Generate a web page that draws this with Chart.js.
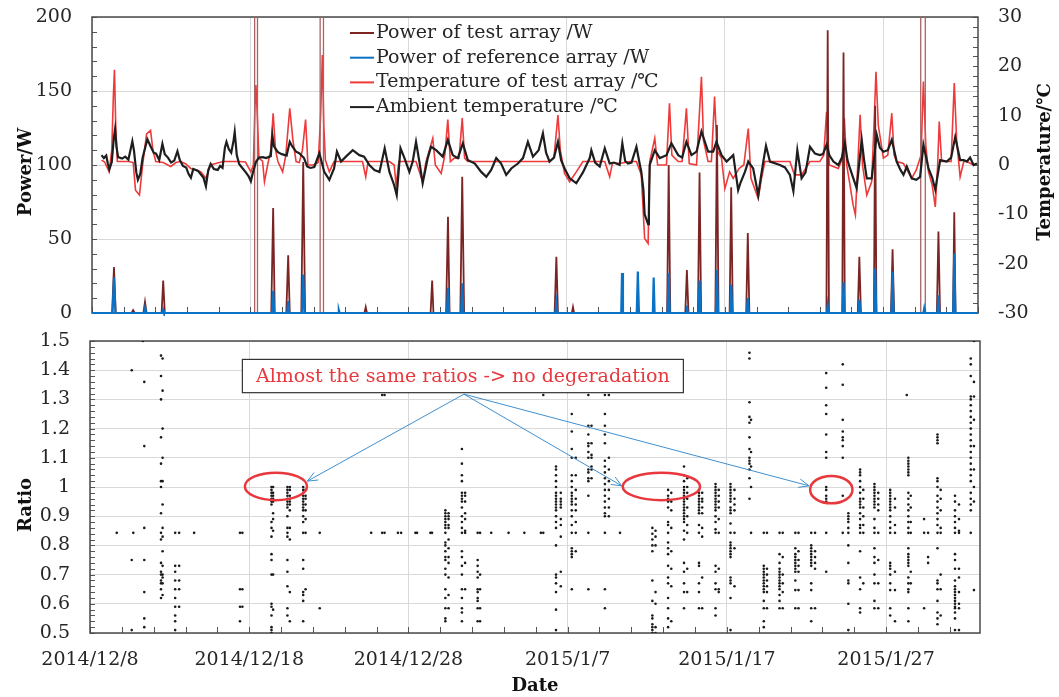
<!DOCTYPE html>
<html>
<head>
<meta charset="utf-8">
<title>Power, temperature and ratio</title>
<script src="https://cdn.jsdelivr.net/npm/chart.js@4.4.1/dist/chart.umd.min.js"></script>
<style>
  body { margin: 0; background: #fff; }
  #wrap { position: relative; width: 1059px; height: 697px; }
  canvas { position: absolute; left: 0; }
  #top { top: 0; }
  #bottom { top: 330px; }
</style>
</head>
<body>
<div id="wrap">
  <canvas id="top" width="1059" height="330"></canvas>
  <canvas id="bottom" width="1059" height="367"></canvas>
</div>
<script>
"use strict";

const SERIF = '"DejaVu Serif", "Liberation Serif", serif';
const TEXT = "#262626";
const GRID = "#d9d9d9";

// x values are days counted from 2014/12/8 00:00
const startDate = [2014, 11, 8];

const legendLabels = [
  "Power of test array /W",
  "Power of reference array /W",
  "Temperature of test array /℃",
  "Ambient temperature /℃",
];
const seriesColors = ["#7a2424", "#0a72c4", "#ee3a3a", "#1e1e1e"];

// [day, W]
const powerTest = [
  [0, 0], [1.27, 0], [1.39, 31], [1.5, 0],
  [2.5, 0], [2.6, 2], [2.7, 0],
  [3.25, 0], [3.35, 7.5], [3.45, 0],
  [4.4, 0], [4.5, 22], [4.6, 0],
  [10.28, 0], [10.28, 400], [10.46, 400], [10.46, 0],
  [11.33, 0], [11.45, 71], [11.55, 0],
  [12.28, 0], [12.4, 39], [12.5, 0],
  [13.23, 0], [13.35, 102], [13.47, 0],
  [14.42, 0], [14.42, 400], [14.63, 400], [14.63, 0],
  [17.22, 0], [17.3, 4], [17.38, 0],
  [21.4, 0], [21.5, 22], [21.58, 0],
  [22.38, 0], [22.5, 65], [22.6, 0],
  [23.28, 0], [23.4, 92], [23.52, 0],
  [29.24, 0], [29.35, 38], [29.45, 0],
  [30.33, 0], [30.4, 4], [30.47, 0],
  [34.42, 0], [34.5, 5], [34.58, 0],
  [36.35, 0], [36.45, 100], [36.55, 0],
  [37.5, 0], [37.6, 29], [37.7, 0],
  [38.3, 0], [38.4, 95], [38.5, 0],
  [39.4, 0], [39.5, 127], [39.6, 0],
  [40.3, 0], [40.4, 85], [40.5, 0],
  [41.35, 0], [41.45, 54], [41.55, 0],
  [46.42, 0], [46.5, 191], [46.58, 0],
  [47.42, 0], [47.5, 176], [47.58, 0],
  [48.4, 0], [48.5, 38], [48.6, 0],
  [49.42, 0], [49.5, 140], [49.58, 0],
  [50.5, 0], [50.6, 43], [50.7, 0],
  [52.38, 0], [52.38, 400], [52.67, 400], [52.67, 0],
  [53.4, 0], [53.5, 55], [53.6, 0],
  [54.42, 0], [54.5, 68], [54.58, 0],
  [56, 0],
];

const powerRef = [
  [0, 0], [1.3, 0], [1.39, 24], [1.48, 0],
  [3.3, 0], [3.35, 3], [3.4, 0],
  [4.45, 0], [4.5, 2], [4.55, 0],
  [11.38, 0], [11.45, 15], [11.52, 0],
  [12.33, 0], [12.4, 8], [12.47, 0],
  [13.27, 0], [13.35, 26], [13.43, 0],
  [15.55, 0], [15.6, 2], [15.65, 0],
  [22.43, 0], [22.5, 17], [22.57, 0],
  [23.33, 0], [23.4, 20], [23.47, 0],
  [29.28, 0], [29.35, 7], [29.42, 0],
  [33.45, 0], [33.5, 27], [33.56, 0],
  [34.43, 0], [34.5, 28], [34.57, 0],
  [35.45, 0], [35.5, 24], [35.56, 0],
  [36.38, 0], [36.45, 27], [36.52, 0],
  [37.55, 0], [37.6, 5], [37.65, 0],
  [38.33, 0], [38.4, 22], [38.47, 0],
  [39.43, 0], [39.5, 29], [39.57, 0],
  [40.33, 0], [40.4, 19], [40.47, 0],
  [41.38, 0], [41.45, 10], [41.52, 0],
  [46.45, 0], [46.5, 5], [46.55, 0],
  [47.43, 0], [47.5, 21], [47.57, 0],
  [48.43, 0], [48.5, 9], [48.57, 0],
  [49.43, 0], [49.5, 30], [49.57, 0],
  [50.53, 0], [50.6, 28], [50.67, 0],
  [52.55, 0], [52.6, 3], [52.65, 0],
  [53.43, 0], [53.5, 12], [53.57, 0],
  [54.43, 0], [54.5, 40], [54.57, 0],
  [56, 0],
];

// [day, °C]
const tempTest = [
  [0.6, 1.0], [0.8, 0.6], [1.08, -1.4], [1.25, 3.0], [1.35, 14.0], [1.42, 19.3], [1.5, 8.0], [1.6, 0.7],
  [2.0, 0.7], [2.34, 0.7], [2.6, 0.5], [2.75, -5.1], [3.0, -6.1], [3.2, 0], [3.45, 6.3], [3.7, 7.0],
  [3.85, 3.0], [4.03, 0.7], [4.5, 0.5], [4.98, -0.3], [5.3, 0.5], [5.6, 0.7], [5.93, 0.2], [6.24, -0.7],
  [6.6, -1.0], [6.88, -1.4], [7.2, -2.7], [7.5, 0], [7.93, 0.4], [8.3, 0.7], [8.7, 0.7], [9.0, 0.7],
  [9.3, 0.7], [9.7, 0.6], [10.04, -1.4], [10.2, 0], [10.3, 12.0], [10.36, 16.2], [10.45, 10.0], [10.55, 1.4],
  [10.78, 0.8], [10.9, -3.4], [11.1, 0], [11.3, 3.0], [11.45, 10.5], [11.6, 3.0], [11.75, 0.7], [12.05, -1.4],
  [12.25, 2.0], [12.5, 11.5], [12.7, 5.0], [12.9, 0.7], [13.1, 0.5], [13.3, 3.0], [13.5, 9.2], [13.65, 0],
  [14.0, 0], [14.3, 0.5], [14.45, 10.0], [14.56, 22.3], [14.65, 8.0], [14.75, 1.0], [15.0, -1.4], [15.3, 0.7],
  [16.0, 0.7], [16.8, 0.7], [17.1, 0.7], [17.3, -2.4], [17.45, 0.7], [18.0, 0.7], [18.8, 0.7], [19.1, 0],
  [19.22, -4.1], [19.4, 0.7], [20.0, 0.7], [20.48, 0.7], [20.9, -3.4], [21.1, 0.5], [21.54, 5.4], [21.7, 0],
  [22.07, -1.7], [22.3, 2.0], [22.49, 9.2], [22.65, 0.7], [22.9, 1.4], [23.2, 1.4], [23.4, 9.5], [23.55, 1.4],
  [23.75, 0.7], [24.5, 0.7], [25.5, 0.7], [26.5, 0.7], [27.5, 0.7], [28.29, 0.7], [28.92, 0.7], [29.2, 1.5],
  [29.45, 10.1], [29.6, 3.0], [29.87, -1.7], [30.19, -3.4], [30.61, -1.4], [31.03, 0.7], [31.5, 0.7], [32.41, 0.7],
  [32.72, -2.4], [32.9, 0.5], [33.35, 0.3], [34.0, 0.7], [34.41, 0.7], [34.72, -2.0], [34.93, -14.9], [35.15, -15.9],
  [35.25, 0.7], [35.57, 5.4], [35.75, 0], [36.31, 0], [36.5, 12.5], [36.65, 2.0], [37.05, 0.7], [37.3, 0.7],
  [37.57, 11.5], [37.75, 0.3], [38.21, 0], [38.52, 17.9], [38.65, 5.0], [38.94, 0.7], [39.15, 0.7], [39.35, 13.9],
  [39.5, 3.0], [39.79, 1.4], [40.0, -4.8], [40.3, -1.4], [40.53, -2.7], [40.9, -0.7], [41.2, 0], [41.48, 7.4],
  [41.65, -2.7], [42.11, -6.8], [42.3, -3.0], [42.53, 0.7], [43.0, 0.7], [43.5, 0.7], [44.11, 0.7], [44.4, -2.0],
  [44.85, -2.0], [45.38, 0.7], [46.0, 0.7], [46.25, 2.0], [46.43, 10.8], [46.6, 0], [47.17, -0.7], [47.4, 1.0],
  [47.55, 9.5], [47.7, 0], [47.91, -4.1], [48.1, -8.0], [48.25, -10.1], [48.4, 0], [48.55, 10.2], [48.7, 0],
  [48.97, -6.1], [49.28, -3.4], [49.45, 10.0], [49.55, 18.9], [49.7, 8.0], [50.02, 1.4], [50.3, 2.0], [50.55, 10.5],
  [50.7, 2.0], [50.86, 0.7], [51.29, 0.3], [51.81, -2.7], [52.1, -1.0], [52.4, 2.0], [52.55, 16.9], [52.7, 4.0],
  [52.87, -1.4], [53.1, -4.0], [53.3, -8.5], [53.45, 0], [53.55, 8.8], [53.7, 0.7], [54.03, 0.7], [54.3, 0.7],
  [54.5, 16.6], [54.65, 5.0], [54.87, -2.4], [55.1, 0.7], [55.3, 0.7], [55.72, 0], [55.93, 0.3],
];

const tempAmbient = [
  [0.6, 2.0], [0.75, 1.4], [0.9, 1.9], [1.0, 0.3], [1.1, -0.9], [1.25, 0.6], [1.38, 5.5], [1.46, 7.3],
  [1.55, 3.6], [1.65, 1.6], [1.9, 1.3], [2.1, 1.7], [2.3, 1.1], [2.45, 3.3], [2.55, 4.8], [2.65, 3.0],
  [2.8, -1.5], [2.9, -3.0], [3.05, -1.8], [3.2, 1.5], [3.4, 4.0], [3.5, 5.2], [3.7, 3.8], [3.9, 2.5],
  [4.05, 2.3], [4.25, 1.0], [4.45, 4.3], [4.6, 2.2], [4.8, 1.5], [5.0, 0.5], [5.2, 0.9], [5.4, 2.8],
  [5.55, 1.0], [5.75, -0.2], [5.95, -0.5], [6.1, -1.8], [6.25, -2.6], [6.4, -0.8], [6.56, -1.0], [6.7, -1.2],
  [6.9, -2.0], [7.05, -2.6], [7.2, -4.3], [7.35, -1.0], [7.5, 0.2], [7.7, -0.8], [7.95, -1.0], [8.1, -0.2],
  [8.25, -0.6], [8.4, 3.5], [8.5, 4.7], [8.65, 3.2], [8.8, 2.5], [8.95, 5.0], [9.02, 6.7], [9.15, 2.0],
  [9.3, 0.2], [9.5, -0.6], [9.7, -1.4], [9.9, -2.3], [10.04, -3.3], [10.15, -1.8], [10.36, 0.6], [10.55, 1.5],
  [10.8, 1.6], [11.0, 1.4], [11.3, 1.8], [11.4, 6.0], [11.5, 3.8], [11.75, 2.6], [12.0, 2.2], [12.3, 1.9],
  [12.5, 4.7], [12.65, 3.8], [12.9, 2.7], [13.1, 2.4], [13.4, 1.4], [13.6, -0.3], [13.8, -0.6], [14.05, -0.4],
  [14.37, 2.4], [14.68, -1.4], [15.0, -3.0], [15.3, -0.7], [15.48, 2.7], [15.74, 0.7], [16.05, 1.7], [16.48, 3.0],
  [16.9, 2.0], [17.2, 1.7], [17.53, 0], [17.85, -1.0], [18.17, -1.4], [18.5, 3.4], [18.8, -1.4], [19.1, -4.1],
  [19.26, -6.1], [19.5, 3.4], [19.75, 1.4], [20.06, -1.4], [20.27, 0.7], [20.48, 4.7], [20.69, 0.7], [20.9, -3.7],
  [21.22, 1.4], [21.43, 3.7], [21.75, 3.0], [22.17, 1.7], [22.49, 5.1], [22.8, 2.0], [23.12, 1.4], [23.44, 4.4],
  [23.75, 1.0], [24.2, 0.3], [24.6, -1.4], [24.92, -2.4], [25.23, -1.0], [25.55, 1.4], [25.86, 0.3], [26.18, -2.0],
  [26.5, -0.7], [26.92, 0.3], [27.24, 1.4], [27.55, 4.7], [27.87, 1.7], [28.23, 3.0], [28.5, 6.4], [28.7, 2.5],
  [28.92, 0.7], [29.2, 1.5], [29.45, 4.7], [29.65, 1.0], [29.87, -0.7], [30.19, -2.7], [30.61, -3.7], [31.03, -1.5],
  [31.46, 1.4], [31.56, 3.0], [31.8, 0.5], [32.09, -0.3], [32.41, 3.4], [32.72, 0.3], [33.0, 0.5], [33.35, 0],
  [33.52, 4.4], [33.7, 0.8], [33.88, 0.3], [34.1, 0.5], [34.41, 3.7], [34.6, 0.5], [34.72, -1.4], [34.85, -5.0],
  [34.93, -10.0], [35.15, -12.0], [35.2, -9.0], [35.25, 0], [35.57, 3.0], [35.89, 1.4], [36.31, 2.0], [36.62, 4.4],
  [37.05, 2.0], [37.3, 1.5], [37.57, 4.7], [37.89, 2.0], [38.21, 2.7], [38.52, 6.8], [38.94, 2.7], [39.26, 2.7],
  [39.47, 4.7], [39.79, 2.0], [40.11, 0.7], [40.53, 2.0], [40.84, -5.1], [41.0, -3.5], [41.27, -1.4], [41.48, 0.7],
  [41.79, -0.7], [42.11, -6.1], [42.25, -3.0], [42.43, 0.7], [42.6, 3.9], [42.85, 0.7], [43.48, 0], [43.8, -0.5],
  [44.11, -2.0], [44.33, -5.3], [44.58, 3.0], [44.85, -2.7], [45.1, -1.5], [45.38, 3.7], [45.7, 2.3], [46.0, 2.0],
  [46.2, 2.2], [46.43, 4.1], [46.6, 2.0], [46.86, 0.7], [47.17, 0], [47.4, 1.5], [47.59, 4.4], [47.75, 1.0],
  [47.91, -0.7], [48.1, -2.5], [48.33, -4.7], [48.65, 5.1], [48.8, 1.0], [48.97, -2.7], [49.28, -2.7], [49.6, 6.1],
  [49.8, 3.5], [50.02, 2.7], [50.3, 3.0], [50.55, 5.1], [50.86, 0.7], [51.1, -1.0], [51.29, -2.0], [51.5, -0.3],
  [51.81, -2.7], [52.1, -3.0], [52.34, -2.4], [52.55, 4.1], [52.87, -0.7], [53.1, -2.5], [53.3, -5.0], [53.61, 1.0],
  [54.03, 0.7], [54.3, 1.5], [54.56, 5.7], [54.87, 1.0], [55.1, 1.0], [55.3, 0.7], [55.5, 1.5], [55.72, 0],
  [55.93, 0.3],
];

// ratio of test to reference power: [day, [ratios at that time]]
const ratioColumns = [
  [1.68, [0.843]],
  [2.62, [1.40, 0.75, 0.51]],
  [2.72, [0.843]],
  [3.32, [1.50]],
  [3.41, [1.36, 1.14, 0.86, 0.75, 0.64, 0.55, 0.52]],
  [4.46, [1.45, 1.38, 1.30, 1.17, 1.08, 1.02, 1.00, 0.91, 0.843, 0.82, 0.74, 0.71, 0.70, 0.68, 0.67, 0.65, 0.62]],
  [4.56, [1.44, 1.33, 1.20, 1.10, 1.02, 0.94, 0.86, 0.83, 0.78, 0.73, 0.70, 0.69, 0.67, 0.63]],
  [5.35, [0.843, 0.73, 0.71, 0.68, 0.65, 0.62, 0.59, 0.56, 0.54, 0.51]],
  [5.6, [0.843, 0.73, 0.68, 0.65, 0.59]],
  [6.54, [0.843]],
  [9.42, [0.843, 0.65, 0.59, 0.54]],
  [9.57, [0.843, 0.65, 0.59]],
  [11.4, [1.0, 0.99, 0.98, 0.97, 0.96, 0.95, 0.94, 0.88, 0.86, 0.83, 0.77, 0.75, 0.70, 0.60, 0.59, 0.56, 0.52, 0.51, 0.50]],
  [11.5, [1.0, 0.98, 0.97, 0.96, 0.95, 0.91, 0.89, 0.85, 0.70, 0.58]],
  [12.4, [1.0, 0.99, 0.98, 0.97, 0.96, 0.95, 0.94, 0.93, 0.90, 0.86, 0.843, 0.83, 0.75, 0.71, 0.66, 0.585, 0.56]],
  [12.55, [1.0, 0.99, 0.97, 0.96, 0.95, 0.94, 0.92, 0.86, 0.82, 0.64, 0.54]],
  [13.39, [1.0, 0.99, 0.98, 0.97, 0.96, 0.95, 0.94, 0.93, 0.92, 0.90, 0.88, 0.843, 0.75, 0.72, 0.64, 0.63, 0.61, 0.54]],
  [13.54, [0.99, 0.97, 0.96, 0.94, 0.92, 0.89, 0.843, 0.65]],
  [14.43, [0.843, 0.585]],
  [17.66, [0.843]], [18.35, [0.843, 1.315]], [18.5, [0.843, 1.315]], [19.34, [0.843]], [19.54, [0.843]],
  [20.44, [0.843]], [20.54, [0.843]], [21.38, [0.843]], [21.48, [0.843]],
  [22.32, [0.92, 0.91, 0.90, 0.89, 0.88, 0.87, 0.86, 0.843, 0.81, 0.80, 0.78, 0.76, 0.75, 0.72, 0.70, 0.65, 0.62, 0.585, 0.55, 0.54]],
  [22.52, [0.91, 0.90, 0.89, 0.87, 0.86, 0.82, 0.79, 0.76, 0.74, 0.69, 0.63, 0.585]],
  [23.36, [1.13, 1.08, 1.04, 1.02, 0.98, 0.97, 0.96, 0.95, 0.93, 0.90, 0.88, 0.86, 0.843, 0.78, 0.76, 0.73, 0.70, 0.65, 0.62, 0.585, 0.57, 0.54]],
  [23.56, [0.98, 0.97, 0.95, 0.91, 0.89, 0.85, 0.843, 0.74, 0.65]],
  [24.35, [0.843, 0.75, 0.73, 0.71, 0.69, 0.65, 0.64, 0.62, 0.61, 0.585, 0.54]],
  [24.5, [0.843, 0.70, 0.65, 0.585, 0.54]],
  [25.2, [0.843]], [26.29, [0.843]], [27.28, [0.843]], [28.32, [0.843]], [28.47, [0.843, 1.315]],
  [29.27, [1.07, 1.06, 1.04, 1.02, 1.0, 0.98, 0.97, 0.96, 0.95, 0.94, 0.93, 0.92, 0.90, 0.88, 0.86, 0.80, 0.70, 0.69, 0.67, 0.64, 0.58, 0.51]],
  [29.57, [0.98, 0.96, 0.95, 0.94, 0.93, 0.89, 0.87, 0.83, 0.71, 0.66]],
  [30.26, [1.25, 1.19, 1.13, 1.10, 1.04, 1.02, 1.0, 0.98, 0.97, 0.96, 0.95, 0.94, 0.92, 0.90, 0.87, 0.843, 0.79, 0.78, 0.77, 0.76, 0.65]],
  [30.51, [1.10, 1.04, 0.99, 0.96, 0.94, 0.92, 0.88, 0.843, 0.78]],
  [31.3, [1.315, 1.21, 1.18, 1.15, 1.14, 1.12, 1.10, 1.06, 1.05, 1.03, 1.02, 0.97, 0.843, 0.65]],
  [31.5, [1.21, 1.15, 1.11, 1.10, 1.07, 1.06, 1.03]],
  [32.34, [1.315, 1.25, 1.21, 1.18, 1.15, 1.09, 1.07, 1.05, 1.03, 1.01, 0.99, 0.97, 0.95, 0.93, 0.91, 0.90, 0.843, 0.65, 0.585]],
  [32.59, [1.315, 1.10, 1.06, 1.02, 0.99, 0.96, 0.93, 0.90]],
  [33.29, [0.843]],
  [35.32, [0.86, 0.84, 0.82, 0.80, 0.78, 0.68, 0.61, 0.56, 0.55, 0.53, 0.52, 0.51, 0.50]],
  [35.52, [0.85, 0.83, 0.80, 0.64, 0.60, 0.52, 0.50]],
  [36.31, [0.99, 0.97, 0.96, 0.95, 0.93, 0.88, 0.87, 0.843, 0.81, 0.79, 0.77, 0.73, 0.69, 0.67, 0.62, 0.585, 0.55, 0.52]],
  [36.51, [0.98, 0.95, 0.92, 0.86, 0.78, 0.72, 0.66, 0.54]],
  [37.31, [1.07, 1.04, 1.02, 1.0, 0.99, 0.98, 0.97, 0.96, 0.95, 0.94, 0.93, 0.92, 0.91, 0.90, 0.89, 0.88, 0.85, 0.82, 0.74, 0.71, 0.67, 0.64, 0.585]],
  [37.51, [1.03, 1.0, 0.98, 0.96, 0.93, 0.90, 0.87, 0.843, 0.72, 0.64]],
  [38.25, [0.99, 0.98, 0.97, 0.96, 0.95, 0.94, 0.93, 0.92, 0.91, 0.87, 0.843, 0.74, 0.73, 0.67, 0.64, 0.585]],
  [38.45, [0.98, 0.96, 0.95, 0.93, 0.91, 0.86, 0.83, 0.69, 0.585]],
  [39.29, [1.01, 1.0, 0.99, 0.98, 0.97, 0.96, 0.95, 0.94, 0.93, 0.92, 0.90, 0.88, 0.855, 0.843, 0.73, 0.71, 0.67, 0.65, 0.585, 0.56]],
  [39.49, [0.99, 0.97, 0.95, 0.93, 0.89, 0.843, 0.72, 0.65, 0.64]],
  [40.23, [1.01, 1.0, 0.99, 0.98, 0.97, 0.96, 0.95, 0.93, 0.92, 0.91, 0.875, 0.843, 0.81, 0.80, 0.79, 0.78, 0.77, 0.76, 0.69, 0.68, 0.67, 0.62, 0.51]],
  [40.48, [0.99, 0.96, 0.94, 0.92, 0.843, 0.79, 0.66]],
  [41.42, [1.46, 1.44, 1.29, 1.24, 1.22, 1.17, 1.13, 1.10, 1.09, 1.08, 1.06, 1.03, 0.96]],
  [41.52, [1.23, 1.12, 1.07, 1.0, 0.843]],
  [42.32, [0.843, 0.73, 0.72, 0.71, 0.70, 0.69, 0.68, 0.67, 0.66, 0.65, 0.64, 0.61, 0.585, 0.54, 0.52]],
  [42.52, [0.843, 0.72, 0.70, 0.68, 0.66, 0.64, 0.585]],
  [43.31, [0.843, 0.77, 0.74, 0.72, 0.71, 0.70, 0.69, 0.68, 0.67, 0.66, 0.65, 0.63, 0.61, 0.585]],
  [43.51, [0.843, 0.76, 0.70, 0.67, 0.64, 0.585]],
  [44.3, [0.843, 0.79, 0.77, 0.76, 0.75, 0.74, 0.73, 0.72, 0.71, 0.68, 0.647, 0.585]],
  [44.5, [0.843, 0.78, 0.75, 0.73, 0.71, 0.647, 0.585]],
  [45.3, [0.843, 0.80, 0.79, 0.78, 0.77, 0.76, 0.75, 0.74, 0.73, 0.67, 0.647, 0.585, 0.54]],
  [45.54, [0.843, 0.78, 0.76, 0.74, 0.72, 0.585]],
  [46.24, [1.39, 1.34, 1.28, 1.25, 1.18, 1.12, 1.10, 1.0, 0.99, 0.97, 0.96, 0.95, 0.843, 0.71]],
  [47.28, [1.42, 1.35, 1.23, 1.19, 1.17, 1.16, 1.14, 1.10, 0.97, 0.843]],
  [47.63, [0.91, 0.90, 0.89, 0.88, 0.86, 0.843, 0.80, 0.74, 0.68, 0.67, 0.60, 0.51]],
  [48.37, [1.06, 1.05, 1.04, 1.02, 1.0, 0.98, 0.96, 0.95, 0.94, 0.93, 0.91, 0.89, 0.87, 0.86, 0.843, 0.78, 0.69, 0.65, 0.585, 0.57]],
  [48.57, [0.99, 0.96, 0.93, 0.90, 0.87, 0.843, 0.67]],
  [49.27, [1.01, 1.0, 0.99, 0.98, 0.97, 0.96, 0.95, 0.94, 0.93, 0.89, 0.86, 0.843, 0.79, 0.76, 0.74, 0.70, 0.67, 0.61, 0.585]],
  [49.51, [0.98, 0.96, 0.94, 0.92, 0.843, 0.75, 0.67, 0.585]],
  [50.26, [0.99, 0.98, 0.97, 0.96, 0.95, 0.94, 0.93, 0.92, 0.90, 0.88, 0.86, 0.843, 0.74, 0.73, 0.72, 0.70, 0.67, 0.647, 0.585, 0.56]],
  [50.56, [0.96, 0.93, 0.87, 0.843, 0.71, 0.647, 0.54]],
  [51.3, [1.315]],
  [51.4, [1.10, 1.09, 1.08, 1.07, 1.06, 1.05, 1.04, 0.98, 0.96, 0.94, 0.92, 0.90, 0.88, 0.86, 0.843, 0.79, 0.77, 0.76, 0.75, 0.74, 0.73, 0.69, 0.67, 0.65, 0.64, 0.585, 0.54]],
  [51.55, [0.97, 0.93, 0.88, 0.843, 0.71, 0.67]],
  [52.39, [0.89, 0.843, 0.585]],
  [52.64, [0.843, 0.76, 0.74]],
  [53.23, [1.18, 1.17, 1.16, 1.15, 1.03, 1.02, 1.0, 0.97, 0.95, 0.93, 0.91, 0.89, 0.87, 0.843, 0.79, 0.68, 0.67, 0.65, 0.61, 0.57, 0.55, 0.53]],
  [53.43, [0.99, 0.96, 0.92, 0.86, 0.843, 0.70, 0.65, 0.56]],
  [54.33, [0.97, 0.95, 0.92, 0.90, 0.88, 0.86, 0.843, 0.77, 0.75, 0.72, 0.68, 0.66, 0.65, 0.64, 0.63, 0.62, 0.61, 0.60, 0.59, 0.585, 0.57, 0.55, 0.51]],
  [54.58, [0.94, 0.89, 0.85, 0.843, 0.72, 0.69, 0.64, 0.60, 0.585, 0.51]],
  [55.32, [1.44, 1.42, 1.38, 1.31, 1.30, 1.28, 1.26, 1.24, 1.22, 1.20, 1.18, 1.16, 1.14, 1.12, 1.10, 1.08, 1.06, 1.04, 1.02, 0.98, 0.96, 0.94, 0.92, 0.843]],
  [55.52, [1.50, 1.36, 1.31, 1.23, 1.14, 1.06, 1.0, 0.95, 0.647]],
];

// callout on the ratio panel, in data units (day, ratio)
const noteText = "Almost the same ratios -> no degeradation";
const noteBox = [9.57, 37.27, 1.437, 1.323];
const noteFrom = [23.49, 1.318];
const noteTargets = [[13.65, 1.02], [33.4, 1.004], [45.16, 1.004]];
const noteRings = [[11.68, 1.002, 1.95, 0.047], [35.89, 1.002, 2.43, 0.047], [46.56, 0.991, 1.33, 0.047]];

Chart.defaults.font.family = SERIF;
Chart.defaults.font.size = 19;
Chart.defaults.color = TEXT;

function toXY(pairs) {
  return pairs.map((p) => ({ x: p[0], y: p[1] }));
}

function dateLabel(v) {
  const d = new Date(startDate[0], startDate[1], startDate[2] + v);
  return d.getFullYear() + "/" + (d.getMonth() + 1) + "/" + d.getDate();
}

// force an axis box size and drop the label overhang padding
function fixBox(size) {
  return function (scale) {
    if (scale.isHorizontal()) scale.height = size;
    else scale.width = size;
    scale.paddingTop = scale.paddingBottom = scale.paddingLeft = scale.paddingRight = 0;
  };
}

function tickRun(ctx, scale, from, to, step, side, len, a) {
  const n = Math.floor((to - from) / step + 1e-6);
  ctx.beginPath();
  for (let i = 0; i <= n; i++) {
    const p = Math.round(scale.getPixelForValue(from + i * step)) + 0.5;
    if (side === "left") { ctx.moveTo(a.left, p); ctx.lineTo(a.left + len, p); }
    else if (side === "right") { ctx.moveTo(a.right, p); ctx.lineTo(a.right - len, p); }
    else { ctx.moveTo(p, a.bottom); ctx.lineTo(p, a.bottom - len); }
  }
  ctx.stroke();
}

function vText(ctx, text, x, y) {
  ctx.save();
  ctx.translate(x, y);
  ctx.rotate(-Math.PI / 2);
  ctx.textAlign = "center";
  ctx.textBaseline = "middle";
  ctx.fillText(text, 0, 0);
  ctx.restore();
}

function arrow(ctx, x0, y0, x1, y1) {
  const ang = Math.atan2(y1 - y0, x1 - x0);
  const h = 11, w = 0.4;
  ctx.beginPath();
  ctx.moveTo(x0, y0);
  ctx.lineTo(x1, y1);
  ctx.moveTo(x1 - h * Math.cos(ang - w), y1 - h * Math.sin(ang - w));
  ctx.lineTo(x1, y1);
  ctx.lineTo(x1 - h * Math.cos(ang + w), y1 - h * Math.sin(ang + w));
  ctx.stroke();
}

// segments that leave the 0-200 W range are drawn lighter, like the reference
const offScale = (c) => c.p0.parsed.y > 200 || c.p1.parsed.y > 200;

const topDecor = {
  id: "topDecor",
  beforeDatasetsDraw(chart) {
    const { ctx, chartArea: a, scales } = chart;
    ctx.save();
    ctx.strokeStyle = "#555";
    ctx.lineWidth = 1;
    tickRun(ctx, scales.y, 0, 200, 10, "left", 5, a);
    tickRun(ctx, scales.yT, -30, 30, 2, "right", 5, a);
    tickRun(ctx, scales.x, 0, 56, 2, "bottom", 6, a);
    ctx.lineWidth = 1.5;
    ctx.strokeStyle = "#4a4a4a";
    ctx.strokeRect(a.left, a.top, a.width, a.height);
    ctx.restore();
  },
  afterDraw(chart) {
    const { ctx } = chart;
    ctx.save();
    ctx.font = "19px " + SERIF;
    ctx.textBaseline = "middle";
    ctx.textAlign = "left";
    legendLabels.forEach((label, i) => {
      const y = 33 + i * 24.7;
      ctx.strokeStyle = seriesColors[i];
      ctx.lineWidth = 2;
      ctx.beginPath();
      ctx.moveTo(350, y);
      ctx.lineTo(374, y);
      ctx.stroke();
      ctx.fillStyle = TEXT;
      ctx.fillText(label, 376, y);
    });
    ctx.font = "bold 18px " + SERIF;
    ctx.fillStyle = "#111";
    vText(ctx, "Power/W", 26, 172);
    vText(ctx, "Temperature/℃", 1045, 162);
    ctx.restore();
  },
};

const bottomDecor = {
  id: "bottomDecor",
  beforeDatasetsDraw(chart) {
    const { ctx, chartArea: a, scales } = chart;
    ctx.save();
    ctx.strokeStyle = "#555";
    ctx.lineWidth = 1;
    tickRun(ctx, scales.y, 0.5, 1.5, 0.02, "left", 5, a);
    tickRun(ctx, scales.x, 0, 55.9, 2, "bottom", 6, a);
    ctx.lineWidth = 1.5;
    ctx.strokeStyle = "#4a4a4a";
    ctx.strokeRect(a.left, a.top, a.width, a.height);
    ctx.restore();
  },
  afterDatasetsDraw(chart) {
    const { ctx, scales } = chart;
    const X = (v) => scales.x.getPixelForValue(v);
    const Y = (v) => scales.y.getPixelForValue(v);
    ctx.save();
    ctx.strokeStyle = "#3f8fcf";
    ctx.lineWidth = 1;
    noteTargets.forEach((t) => arrow(ctx, X(noteFrom[0]), Y(noteFrom[1]), X(t[0]), Y(t[1])));
    ctx.strokeStyle = "#e8383d";
    ctx.lineWidth = 2.5;
    noteRings.forEach((r) => {
      ctx.beginPath();
      ctx.ellipse(X(r[0]), Y(r[1]), Math.abs(X(r[0] + r[2]) - X(r[0])), Math.abs(Y(r[1] + r[3]) - Y(r[1])), 0, 0, Math.PI * 2);
      ctx.stroke();
    });
    const bx = X(noteBox[0]), by = Y(noteBox[2]);
    const bw = X(noteBox[1]) - bx, bh = Y(noteBox[3]) - by;
    ctx.fillStyle = "#fff";
    ctx.fillRect(bx, by, bw, bh);
    ctx.strokeStyle = "#333";
    ctx.lineWidth = 1.2;
    ctx.strokeRect(bx, by, bw, bh);
    ctx.fillStyle = "#e8383d";
    ctx.font = "19px " + SERIF;
    ctx.textAlign = "center";
    ctx.textBaseline = "middle";
    ctx.fillText(noteText, bx + bw / 2, by + bh / 2 + 1);
    ctx.restore();
  },
  afterDraw(chart) {
    const { ctx, chartArea: a } = chart;
    ctx.save();
    ctx.font = "bold 18px " + SERIF;
    ctx.fillStyle = "#111";
    vText(ctx, "Ratio", 26, 175);
    ctx.textAlign = "center";
    ctx.textBaseline = "middle";
    ctx.fillText("Date", (a.left + a.right) / 2, 356);
    ctx.restore();
  },
};

const ratioPoints = [];
ratioColumns.forEach(([day, values]) => {
  values.forEach((v) => ratioPoints.push({ x: day, y: v }));
});

new Chart(document.getElementById("top"), {
  type: "line",
  data: {
    datasets: [
      { label: legendLabels[3], data: toXY(tempAmbient), yAxisID: "yT", borderColor: seriesColors[3], borderWidth: 2.2, order: 0 },
      { label: legendLabels[1], data: toXY(powerRef), yAxisID: "y", borderColor: seriesColors[1], borderWidth: 2.2, order: 1,
        clip: { left: 0, top: 0, right: 0, bottom: 3 } },
      { label: legendLabels[0], data: toXY(powerTest), yAxisID: "y", borderColor: seriesColors[0], borderWidth: 1.8, order: 2,
        segment: {
          borderColor: (c) => (offScale(c) ? "#a86464" : undefined),
          borderWidth: (c) => (offScale(c) ? 1.3 : undefined),
        } },
      { label: legendLabels[2], data: toXY(tempTest), yAxisID: "yT", borderColor: seriesColors[2], borderWidth: 1.6, order: 3 },
    ],
  },
  options: {
    responsive: false,
    animation: false,
    layout: { padding: { top: 17, left: 0, right: 0, bottom: 0 } },
    elements: { point: { radius: 0 }, line: { tension: 0 } },
    plugins: { legend: { display: false }, tooltip: { enabled: false } },
    scales: {
      x: {
        type: "linear", min: 0, max: 56, afterFit: fixBox(17),
        border: { display: false },
        grid: { color: GRID, drawTicks: false },
        ticks: { display: false, stepSize: 10, includeBounds: false },
      },
      y: {
        position: "left", min: 0, max: 200, afterFit: fixBox(92),
        border: { display: false },
        grid: { color: GRID, drawTicks: false },
        ticks: { stepSize: 50, padding: 20, color: TEXT },
      },
      yT: {
        position: "right", min: -30, max: 30, afterFit: fixBox(81),
        border: { display: false },
        grid: { display: false, drawTicks: false },
        ticks: { stepSize: 10, padding: 20, color: TEXT },
      },
    },
  },
  plugins: [topDecor],
});

new Chart(document.getElementById("bottom"), {
  type: "scatter",
  data: {
    datasets: [
      { data: ratioPoints, pointRadius: 1.3, pointBackgroundColor: "#1a1a1a", pointBorderWidth: 0 },
    ],
  },
  options: {
    responsive: false,
    animation: false,
    layout: { padding: { top: 11, left: 0, right: 79, bottom: 0 } },
    plugins: { legend: { display: false }, tooltip: { enabled: false } },
    scales: {
      x: {
        type: "linear", min: 0, max: 55.9, afterFit: fixBox(64),
        border: { display: false },
        grid: { color: GRID, drawTicks: false },
        ticks: {
          stepSize: 10, includeBounds: false, padding: 16, autoSkip: false, maxRotation: 0,
          color: TEXT, callback: (v) => dateLabel(v),
        },
      },
      y: {
        min: 0.5, max: 1.5, afterFit: fixBox(90),
        border: { display: false },
        grid: { color: GRID, drawTicks: false },
        ticks: { stepSize: 0.1, padding: 20, color: TEXT, callback: (v) => String(+v.toFixed(1)) },
      },
    },
  },
  plugins: [bottomDecor],
});
</script>
</body>
</html>
